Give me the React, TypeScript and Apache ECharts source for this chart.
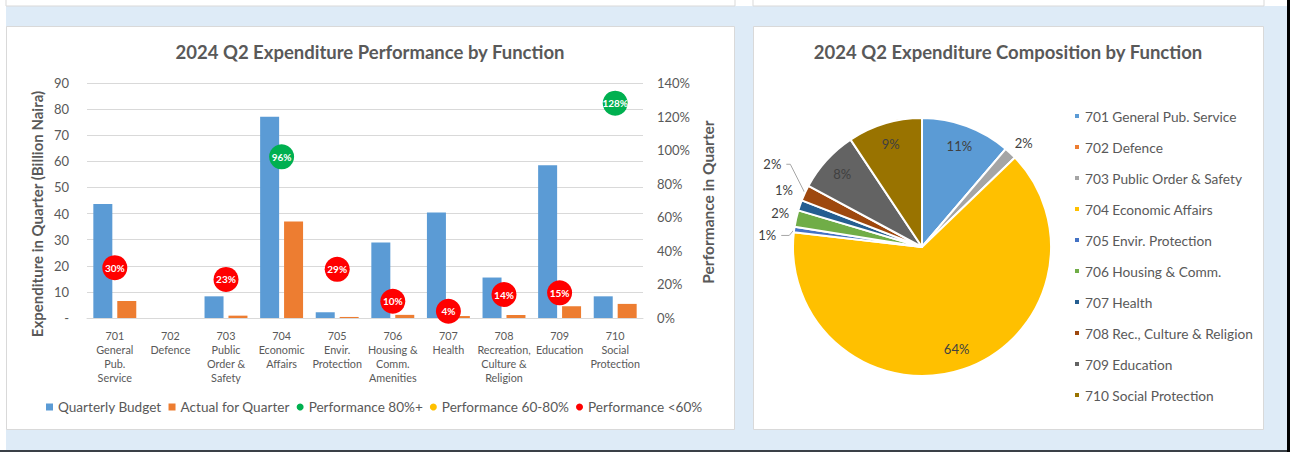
import React, { useEffect, useRef } from "react";
import * as echarts from "echarts";

const categories = [
  "701\nGeneral\nPub.\nService",
  "702\nDefence",
  "703\nPublic\nOrder &\nSafety",
  "704\nEconomic\nAffairs",
  "705\nEnvir.\nProtection",
  "706\nHousing &\nComm.\nAmenities",
  "707\nHealth",
  "708\nRecreation,\nCulture &\nReligion",
  "709\nEducation",
  "710\nSocial\nProtection",
];
const quarterlyBudget = [43.7, 0, 8.3, 77.1, 2.2, 28.9, 40.4, 15.5, 58.5, 8.3];
const actualForQuarter = [6.5, 0, 0.9, 37.0, 0.4, 1.2, 0.75, 1.15, 4.5, 5.4];
const performancePct: (number | null)[] = [30, null, 23, 96, 29, 10, 4, 14, 15, 128];
const pieNames = [
  "701 General Pub. Service",
  "702 Defence",
  "703 Public Order & Safety",
  "704 Economic Affairs",
  "705 Envir. Protection",
  "706 Housing & Comm.",
  "707 Health",
  "708 Rec., Culture & Religion",
  "709 Education",
  "710 Social Protection",
];
const leftAxis = { min: 0, max: 90, interval: 10 };
const rightAxis = { min: 0, max: 140, interval: 20 };

const FONT = "Lato";
const TXT = "#595959";
const pieColors = ["#5b9bd5", "#ed7d31", "#a5a5a5", "#ffc000", "#4472c4", "#70ad47", "#255e91", "#9e480e", "#636363", "#997300"];
// leader-line styling for the small outside labels, by slice index
const pieLeader: Record<number, { show: boolean; length: number; length2: number }> = {
  2: { show: false, length: 2, length2: 0 },
  4: { show: true, length: 8, length2: 8 },
  5: { show: false, length: 2, length2: 0 },
  6: { show: false, length: 2, length2: 0 },
  7: { show: true, length: 16, length2: 4 },
};
// small nudges of outside labels (px), by slice index
const pieLabelNudge: Record<number, [number, number]> = {
  2: [-2, -9],
  4: [3, 7],
  5: [0, -5],
  6: [0, -15],
  7: [0, -22],
};

function buildOption() {
  const total = actualForQuarter.reduce((a, b) => a + b, 0);
  const green = performancePct.map((v) => (v !== null && v >= 80 ? v : null));
  const yellow = performancePct.map((v) => (v !== null && v >= 60 && v < 80 ? v : null));
  const red = performancePct.map((v) => (v !== null && v < 60 ? v : null));
  const scatterLabel = {
    show: true,
    position: "inside",
    color: "#fff",
    fontWeight: "bold",
    fontSize: 10,
    fontFamily: FONT,
    formatter: (p: any) => (p.value == null ? "" : p.value + "%"),
  };
  const pctFmt = (p: any) => Math.round(p.percent) + "%";

  const mainPieData = actualForQuarter.map((v, i) => {
    const share = v / total;
    const small = share > 0 && share < 0.05;
    const ld = pieLeader[i] || { show: true, length: 12, length2: 10 };
    return {
      name: pieNames[i],
      value: v,
      itemStyle: { color: pieColors[i] },
      label: { show: small },
      labelLine: { show: small && ld.show, length: ld.length, length2: ld.length2 },
    };
  });
  const labelPieData = actualForQuarter.map((v, i) => ({
    name: pieNames[i],
    value: v,
    label: { show: v / total >= 0.05 },
  }));

  const pieLabelLayout = (params: any) => {
    const nudge = pieLabelNudge[params.dataIndex];
    if (!nudge) return {};
    const r = params.labelRect;
    const ax =
      params.align === "right" ? r.x + r.width : params.align === "center" ? r.x + r.width / 2 : r.x;
    const ay = r.y + r.height / 2;
    const out: any = { x: ax + nudge[0], y: ay + nudge[1] };
    const pts = params.labelLinePoints;
    if (pts && pts.length) {
      out.labelLinePoints = pts.map((p: number[], k: number) =>
        k === 0 ? [p[0], p[1]] : [p[0] + nudge[0], p[1] + nudge[1]]
      );
    }
    return out;
  };

  return {
    animation: false,
    textStyle: { fontFamily: FONT },
    graphic: [
      { type: "rect", shape: { x: 6, y: 6, width: 1281, height: 444 }, style: { fill: "#deebf7" }, z: -10 },
      { type: "rect", shape: { x: 6, y: -2, width: 729, height: 8 }, style: { fill: "#fff", stroke: "#d9d9d9", lineWidth: 1 }, z: -9 },
      { type: "rect", shape: { x: 753, y: -2, width: 511, height: 8 }, style: { fill: "#fff", stroke: "#d9d9d9", lineWidth: 1 }, z: -9 },
      { type: "rect", shape: { x: 6.5, y: 26.5, width: 728, height: 403 }, style: { fill: "#fff", stroke: "#d9d9d9", lineWidth: 1 }, z: -9 },
      { type: "rect", shape: { x: 753.5, y: 26.5, width: 510, height: 403 }, style: { fill: "#fff", stroke: "#d9d9d9", lineWidth: 1 }, z: -9 },
      { type: "rect", shape: { x: 0, y: 450, width: 1290, height: 2 }, style: { fill: "#3a4047" }, z: -8 },
      { type: "rect", shape: { x: 1287, y: 0, width: 3, height: 452 }, style: { fill: "#000" }, z: -8 },
      {
        type: "text",
        x: 37,
        y: 214,
        rotation: Math.PI / 2,
        style: {
          text: "Expenditure in Quarter (Billion Naira)",
          fill: TXT,
          font: `bold 15px ${FONT}`,
          textAlign: "center",
          textVerticalAlign: "middle",
        },
      },
      {
        type: "text",
        x: 708,
        y: 202,
        rotation: Math.PI / 2,
        style: {
          text: "Performance in Quarter",
          fill: TXT,
          font: `bold 15.5px ${FONT}`,
          textAlign: "center",
          textVerticalAlign: "middle",
        },
      },
    ],
    title: [
      {
        text: "2024 Q2 Expenditure Performance by Function",
        left: 370,
        top: 42,
        textAlign: "center",
        padding: 0,
        textStyle: { fontSize: 18.5, fontWeight: "bold", color: TXT, fontFamily: FONT },
      },
      {
        text: "2024 Q2 Expenditure Composition by Function",
        left: 1008,
        top: 42,
        textAlign: "center",
        padding: 0,
        textStyle: { fontSize: 18.5, fontWeight: "bold", color: TXT, fontFamily: FONT },
      },
    ],
    legend: [
      {
        data: [
          { name: "Quarterly Budget", icon: "rect" },
          { name: "Actual for Quarter", icon: "rect" },
          { name: "Performance 80%+", icon: "circle" },
          { name: "Performance 60-80%", icon: "circle" },
          { name: "Performance <60%", icon: "circle" },
        ],
        left: 46,
        top: 400,
        padding: 0,
        itemWidth: 7,
        itemHeight: 7,
        itemGap: 7,
        textStyle: { fontSize: 13.6, color: TXT, fontFamily: FONT },
      },
      {
        data: pieNames.map((n) => ({ name: n, icon: "rect" })),
        orient: "vertical",
        left: 1073,
        top: 108,
        padding: 0,
        itemWidth: 6,
        itemHeight: 6,
        itemGap: 15,
        textStyle: { fontSize: 13.7, color: TXT, fontFamily: FONT, lineHeight: 16 },
      },
    ],
    grid: { left: 87, right: 647, top: 83, bottom: 134 },
    xAxis: {
      type: "category",
      data: categories,
      axisTick: { show: false },
      axisLine: { lineStyle: { color: "#d9d9d9" } },
      axisLabel: { interval: 0, color: TXT, fontSize: 10.8, lineHeight: 14, margin: 10, fontFamily: FONT },
    },
    yAxis: [
      {
        type: "value",
        ...leftAxis,
        axisLabel: {
          color: TXT,
          fontSize: 13,
          margin: 18,
          fontFamily: FONT,
          formatter: (v: number) => (v === 0 ? "-" : String(v)),
        },
        splitLine: { lineStyle: { color: "#d9d9d9" } },
        axisLine: { show: false },
        axisTick: { show: false },
      },
      {
        type: "value",
        ...rightAxis,
        axisLabel: { color: TXT, fontSize: 13, margin: 14, fontFamily: FONT, formatter: "{value}%" },
        splitLine: { show: false },
        axisLine: { show: false },
        axisTick: { show: false },
      },
    ],
    series: [
      {
        name: "Quarterly Budget",
        type: "bar",
        data: quarterlyBudget,
        barWidth: 19,
        barGap: "26%",
        itemStyle: { color: "#5b9bd5" },
      },
      {
        name: "Actual for Quarter",
        type: "bar",
        data: actualForQuarter,
        barWidth: 19,
        itemStyle: { color: "#ed7d31" },
      },
      {
        name: "Performance 80%+",
        type: "scatter",
        yAxisIndex: 1,
        data: green,
        symbolSize: 25,
        itemStyle: { color: "#00b050", opacity: 1 },
        label: scatterLabel,
        z: 5,
      },
      {
        name: "Performance 60-80%",
        type: "scatter",
        yAxisIndex: 1,
        data: yellow,
        symbolSize: 25,
        itemStyle: { color: "#ffc000", opacity: 1 },
        label: scatterLabel,
        z: 5,
      },
      {
        name: "Performance <60%",
        type: "scatter",
        yAxisIndex: 1,
        data: red,
        symbolSize: 25,
        itemStyle: { color: "#ff0000", opacity: 1 },
        label: scatterLabel,
        z: 5,
      },
      {
        name: "Composition",
        type: "pie",
        center: [922, 247],
        radius: 129,
        startAngle: 90,
        data: mainPieData,
        avoidLabelOverlap: false,
        itemStyle: { borderColor: "#fff", borderWidth: 2 },
        label: {
          position: "outside",
          color: "#404040",
          fontSize: 13,
          fontFamily: FONT,
          formatter: pctFmt,
        },
        labelLine: { length: 12, length2: 10, lineStyle: { color: "#a6a6a6", width: 1 } },
        labelLayout: pieLabelLayout,
        emphasis: { disabled: true },
      },
      {
        name: "CompositionLabels",
        type: "pie",
        center: [922, 247],
        radius: [82, 128],
        startAngle: 90,
        data: labelPieData,
        silent: true,
        itemStyle: { color: "rgba(0,0,0,0)", borderWidth: 0 },
        label: {
          position: "inside",
          color: "#404040",
          fontSize: 13,
          fontFamily: FONT,
          formatter: pctFmt,
        },
        labelLine: { show: false },
        emphasis: { disabled: true },
        z: 3,
      },
    ],
  };
}

export default function App() {
  const ref = useRef<HTMLDivElement>(null);
  useEffect(() => {
    const chart = echarts.init(ref.current!, null, { renderer: "svg" });
    chart.setOption(buildOption() as any);
    return () => chart.dispose();
  }, []);
  return (
    <div
      ref={ref}
      style={{ position: "fixed", left: 0, top: 0, width: 1290, height: 452, background: "#fff" }}
    />
  );
}
